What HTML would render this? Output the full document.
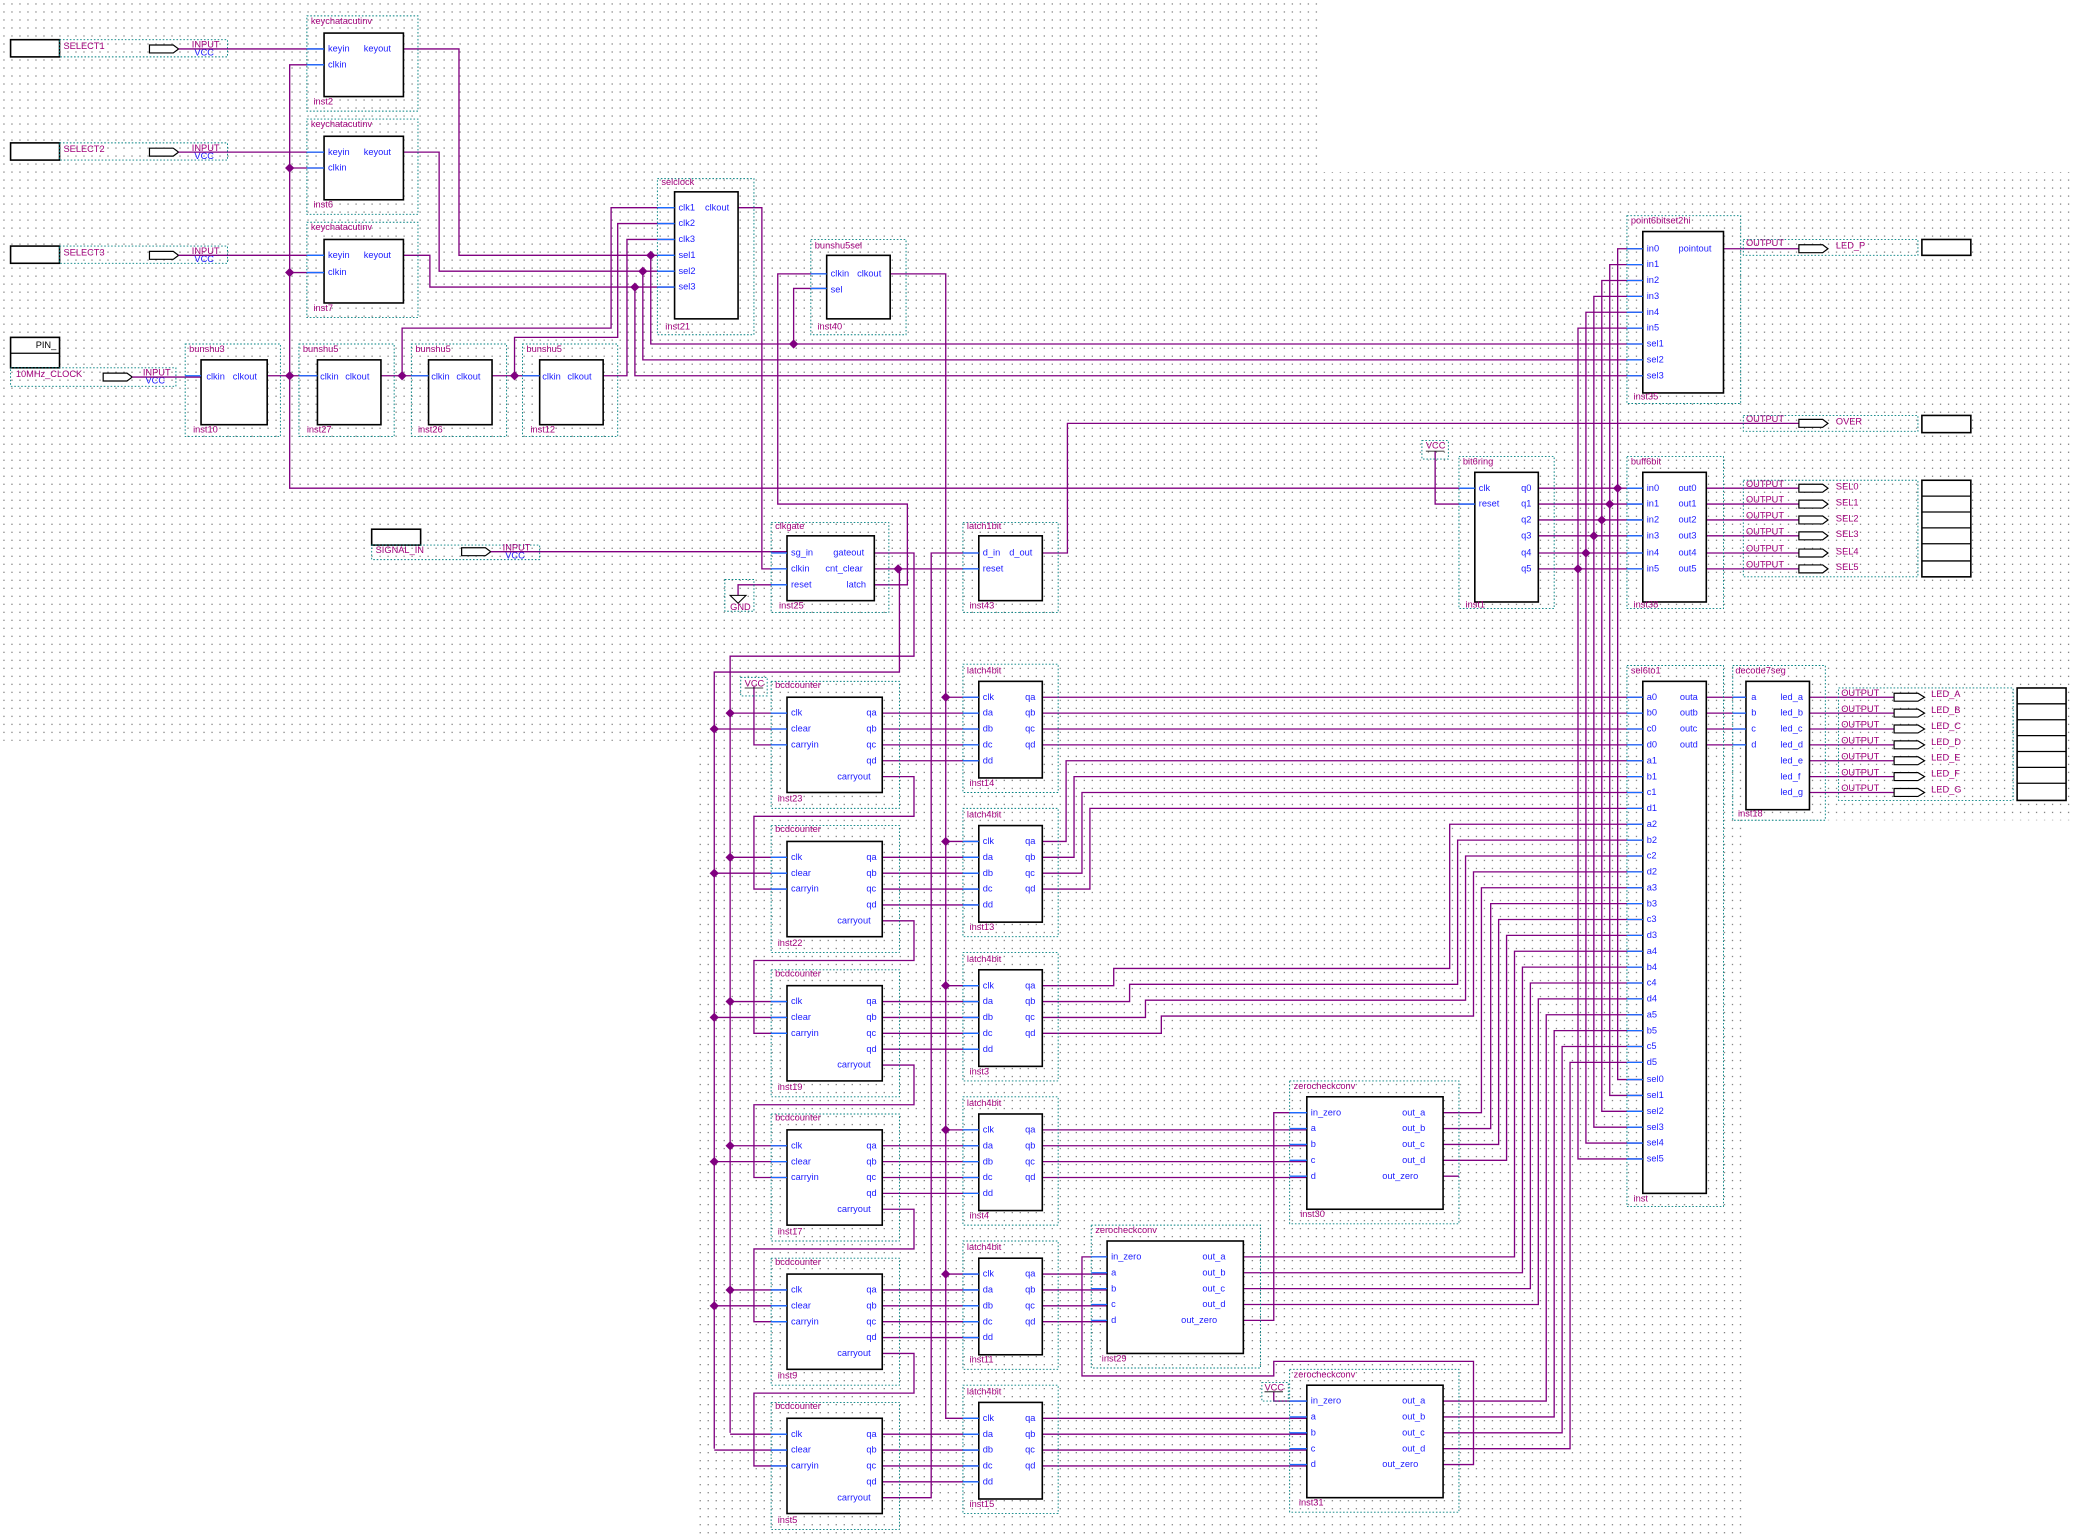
<!DOCTYPE html>
<html><head><meta charset="utf-8"><style>
html,body{margin:0;padding:0;background:#fff}
svg{display:block}
text{font-family:"Liberation Sans",sans-serif;font-size:7px}
.p{fill:#1a1aff}.n{fill:#a0007a}.k{fill:#000}
.w{stroke:#800080;stroke-width:1;fill:none}
.s{stroke:#1a6cff;stroke-width:1;fill:none}
.b{fill:#fff;stroke:#000;stroke-width:1.2}
.f{fill:none;stroke:#008080;stroke-width:.7;stroke-dasharray:1.2 1.4}
.pin{fill:#fff;stroke:#000;stroke-width:.9}
</style></head><body>
<svg width="2074" height="1540" viewBox="0 0 1568 1164" preserveAspectRatio="none" xmlns="http://www.w3.org/2000/svg">
<defs>
<pattern id="g" width="6.05" height="6.05" patternUnits="userSpaceOnUse"><rect x="2.6" y="2.6" width=".8" height=".8" fill="#444"/></pattern>
<path id="d" d="M0-3.5L3.5 0 0 3.5-3.5 0z" fill="#800080"/>
</defs>
<rect width="1568" height="1164" fill="#fff"/>
<rect x="0" y="0" width="1000" height="130" fill="url(#g)"/>
<rect x="0" y="130" width="1568" height="430" fill="url(#g)"/>
<rect x="525" y="560" width="1043" height="60" fill="url(#g)"/>
<rect x="525" y="620" width="795" height="542" fill="url(#g)"/>

<!-- input pins -->
<g>
<rect class="b" x="8" y="30" width="37" height="13"/><rect class="f" x="45" y="30" width="127" height="13"/>
<text class="n" x="48" y="37">SELECT1</text><polygon class="pin" points="113,34 131,34 135,37 131,40 113,40"/>
<text class="n" x="145" y="36">INPUT</text><text class="p" x="147" y="42">VCC</text>
<rect class="b" x="8" y="108" width="37" height="13"/><rect class="f" x="45" y="108" width="127" height="13"/>
<text class="n" x="48" y="115">SELECT2</text><polygon class="pin" points="113,112 131,112 135,115 131,118 113,118"/>
<text class="n" x="145" y="114">INPUT</text><text class="p" x="147" y="120">VCC</text>
<rect class="b" x="8" y="186" width="37" height="13"/><rect class="f" x="45" y="186" width="127" height="13"/>
<text class="n" x="48" y="193">SELECT3</text><polygon class="pin" points="113,190 131,190 135,193 131,196 113,196"/>
<text class="n" x="145" y="192">INPUT</text><text class="p" x="147" y="198">VCC</text>
<rect class="b" x="8" y="255" width="37" height="23"/><line x1="8" y1="267" x2="45" y2="267" stroke="#000"/>
<text class="k" x="27" y="263">PIN_</text><rect class="f" x="8" y="278" width="125" height="14"/>
<text class="n" x="12" y="285">10MHz_CLOCK</text><polygon class="pin" points="78,282 96,282 100,285 96,288 78,288"/>
<text class="n" x="108" y="284">INPUT</text><text class="p" x="110" y="290">VCC</text>
<rect class="b" x="281" y="400" width="37" height="12"/><rect class="f" x="281" y="412" width="127" height="11"/>
<text class="n" x="284" y="418">SIGNAL_IN</text><polygon class="pin" points="349,414 367,414 371,417 367,420 349,420"/>
<text class="n" x="380" y="416">INPUT</text><text class="p" x="382" y="422">VCC</text>
</g>

<!-- wires -->
<path class="w" d="M135 37H245M305 37H347V193H518M135 115H245M305 115H332V205H518M135 193H245M305 193H325V217H518
M245 49H219V369H1115M219 127H245M219 206H245
M100 285H152M202 284H240M288 284H324M372 284H408M456 284H474V181H510
M510 157H462V248H304V284M510 169H467V255H389V284
M492 193V260H1242M486 205V272H1242M480 217V284H1242
M558 157H576V430H595M625 207H588V381H686V442H661M625 218H600V260
M673 207H715V1072H740M715 527H740M715 636H740M715 745H740M715 854H740M715 963H740
M371 417H595M661 418H691V496H552V1083M661 430H740M680 430V508H540V1095
M595 442H558V450M788 418H807V320H1360M740 418H704V1132H667
M570 519V563H595"/>
<!-- bcd wires -->
<path class="w" d="M552 539H595M540 551H595M667 539H740M667 551H740M667 563H740M667 575H740M667 587H691V617H570V672H595
M552 648H595M540 660H595M667 648H740M667 660H740M667 672H740M667 684H740M667 696H691V726H570V781H595
M552 757H595M540 769H595M667 757H740M667 769H740M667 781H740M667 793H740M667 805H691V835H570V890H595
M552 866H595M540 878H595M667 866H740M667 878H740M667 890H740M667 902H740M667 914H691V944H570V999H595
M552 975H595M540 987H595M667 975H740M667 987H740M667 999H740M667 1011H740M667 1023H691V1053H570V1108H595
M552 1084H595M540 1096H595M667 1084H740M667 1096H740M667 1108H740M667 1120H740"/>
<!-- latch outputs -->
<path class="w" d="M788 527H1242M788 539H1242M788 551H1242M788 563H1242
M788 636H806V575H1242M788 648H812V587H1242M788 660H818V599H1242M788 672H824V611H1242
M788 745H842V732H1096V623H1242M788 757H854V744H1102V635H1242M788 769H866V756H1108V647H1242M788 781H878V768H1114V659H1242
M788 854H988M788 866H988M788 878H988M788 890H988
M788 963H837M788 975H837M788 987H837M788 999H837
M788 1072H988M788 1084H988M788 1096H988M788 1108H988
M1091 841H1120V671H1242M1091 853H1127V683H1242M1091 865H1133V695H1242M1091 877H1139V707H1242
M940 950H1145V719H1242M940 962H1151V731H1242M940 974H1157V743H1242M940 986H1163V755H1242
M1091 1059H1169V767H1242M1091 1071H1175V779H1242M1091 1083H1181V791H1242M1091 1095H1187V803H1242
M988 841H963V998H940M1091 1107H1114V1029H963V1040H818V950H837M963 1052V1059H988M1091 889H1103
M1085 341V381H1115
M1163 369H1242M1163 381H1242M1163 393H1242M1163 405H1242M1163 418H1242M1163 430H1242
M1242 188H1223V816H1242M1242 200H1217V828H1242M1242 212H1211V840H1242M1242 224H1205V852H1242M1242 236H1199V864H1242M1242 248H1193V876H1242
M1290 527H1320M1290 539H1320M1290 551H1320M1290 563H1320
M1368 527H1432M1368 539H1432M1368 551H1432M1368 563H1432M1368 575H1432M1368 587H1432M1368 599H1432
M1303 188H1360M1290 369H1360M1290 381H1360M1290 393H1360M1290 405H1360M1290 418H1360M1290 430H1360"/>

<!-- junctions -->
<g>
<use href="#d" x="219" y="127"/><use href="#d" x="219" y="206"/><use href="#d" x="219" y="284"/><use href="#d" x="304" y="284"/><use href="#d" x="389" y="284"/>
<use href="#d" x="492" y="193"/><use href="#d" x="486" y="205"/><use href="#d" x="480" y="217"/><use href="#d" x="600" y="260"/><use href="#d" x="679" y="430"/>
<use href="#d" x="1223" y="369"/><use href="#d" x="1217" y="381"/><use href="#d" x="1211" y="393"/><use href="#d" x="1205" y="405"/><use href="#d" x="1199" y="418"/><use href="#d" x="1193" y="430"/>
<use href="#d" x="552" y="539"/><use href="#d" x="540" y="551"/><use href="#d" x="715" y="527"/>
<use href="#d" x="552" y="648"/><use href="#d" x="540" y="660"/><use href="#d" x="715" y="636"/>
<use href="#d" x="552" y="757"/><use href="#d" x="540" y="769"/><use href="#d" x="715" y="745"/>
<use href="#d" x="552" y="866"/><use href="#d" x="540" y="878"/><use href="#d" x="715" y="854"/>
<use href="#d" x="552" y="975"/><use href="#d" x="540" y="987"/><use href="#d" x="715" y="963"/>
</g>

<!-- GND / VCC -->
<polygon points="552,450 564,450 558,456" fill="#fff" stroke="#000" stroke-width=".8"/>
<rect class="f" x="548" y="438" width="22" height="24"/><text class="n" x="552" y="461">GND</text>
<rect class="f" x="560" y="512" width="20" height="14"/><text class="n" x="563" y="519">VCC</text><line x1="563" y1="520" x2="577" y2="520" stroke="#000" stroke-width=".6"/>
<rect class="f" x="1075" y="333" width="20" height="14"/><text class="n" x="1078" y="339">VCC</text><line x1="1078" y1="341" x2="1092" y2="341" stroke="#000" stroke-width=".6"/>
<rect class="f" x="954" y="1045" width="20" height="14"/><text class="n" x="956" y="1051">VCC</text><line x1="956" y1="1052" x2="970" y2="1052" stroke="#000" stroke-width=".6"/>

<!-- keychatacutinv -->
<g>
<rect class="f" x="232" y="12" width="84" height="72"/><rect class="b" x="245" y="25" width="60" height="48"/>
<path class="s" d="M232 37H245M232 49H245"/>
<text class="n" x="235" y="18">keychatacutinv</text><text class="p" x="248" y="39">keyin</text><text class="p" x="275" y="39">keyout</text><text class="p" x="248" y="51">clkin</text><text class="n" x="237" y="79">inst2</text>
<rect class="f" x="232" y="90" width="84" height="72"/><rect class="b" x="245" y="103" width="60" height="48"/>
<path class="s" d="M232 115H245M232 127H245"/>
<text class="n" x="235" y="96">keychatacutinv</text><text class="p" x="248" y="117">keyin</text><text class="p" x="275" y="117">keyout</text><text class="p" x="248" y="129">clkin</text><text class="n" x="237" y="157">inst6</text>
<rect class="f" x="232" y="168" width="84" height="72"/><rect class="b" x="245" y="181" width="60" height="48"/>
<path class="s" d="M232 193H245M232 206H245"/>
<text class="n" x="235" y="174">keychatacutinv</text><text class="p" x="248" y="195">keyin</text><text class="p" x="275" y="195">keyout</text><text class="p" x="248" y="208">clkin</text><text class="n" x="237" y="235">inst7</text>
</g>

<!-- selclock -->
<rect class="f" x="497" y="135" width="73" height="118"/><rect class="b" x="510" y="145" width="48" height="96"/>
<path class="s" d="M497 157H510M497 169H510M497 181H510M497 193H510M497 205H510M497 217H510"/>
<text class="n" x="500" y="140">selclock</text><text class="n" x="503" y="249">inst21</text>
<text class="p" x="513" y="159">clk1</text><text class="p" x="533" y="159">clkout</text><text class="p" x="513" y="171">clk2</text><text class="p" x="513" y="183">clk3</text><text class="p" x="513" y="195">sel1</text><text class="p" x="513" y="207">sel2</text><text class="p" x="513" y="219">sel3</text>

<!-- bunshu -->
<g>
<rect class="f" x="140" y="260" width="72" height="70"/><rect class="b" x="152" y="272" width="50" height="49"/><path class="s" d="M140 284H152"/>
<text class="n" x="143" y="266">bunshu3</text><text class="p" x="156" y="287">clkin</text><text class="p" x="176" y="287">clkout</text><text class="n" x="146" y="327">inst10</text>
<rect class="f" x="226" y="260" width="72" height="70"/><rect class="b" x="240" y="272" width="48" height="49"/><path class="s" d="M226 284H240"/>
<text class="n" x="229" y="266">bunshu5</text><text class="p" x="242" y="287">clkin</text><text class="p" x="261" y="287">clkout</text><text class="n" x="232" y="327">inst27</text>
<rect class="f" x="311" y="260" width="72" height="70"/><rect class="b" x="324" y="272" width="48" height="49"/><path class="s" d="M311 284H324"/>
<text class="n" x="314" y="266">bunshu5</text><text class="p" x="326" y="287">clkin</text><text class="p" x="345" y="287">clkout</text><text class="n" x="316" y="327">inst26</text>
<rect class="f" x="395" y="260" width="72" height="70"/><rect class="b" x="408" y="272" width="48" height="49"/><path class="s" d="M395 284H408"/>
<text class="n" x="398" y="266">bunshu5</text><text class="p" x="410" y="287">clkin</text><text class="p" x="429" y="287">clkout</text><text class="n" x="401" y="327">inst12</text>
</g>

<!-- bunshu5sel -->
<rect class="f" x="613" y="181" width="72" height="72"/><rect class="b" x="625" y="193" width="48" height="48"/><path class="s" d="M613 207H625M613 218H625"/>
<text class="n" x="616" y="188">bunshu5sel</text><text class="p" x="628" y="209">clkin</text><text class="p" x="648" y="209">clkout</text><text class="p" x="628" y="221">sel</text><text class="n" x="618" y="249">inst40</text>

<!-- clkgate -->
<rect class="f" x="583" y="395" width="89" height="68"/><rect class="b" x="595" y="405" width="66" height="49"/><path class="s" d="M583 418H595M583 430H595M583 442H595"/>
<text class="n" x="586" y="400">clkgate</text><text class="p" x="598" y="420">sg_in</text><text class="p" x="598" y="432">clkin</text><text class="p" x="598" y="444">reset</text>
<text class="p" x="630" y="420">gateout</text><text class="p" x="624" y="432">cnt_clear</text><text class="p" x="640" y="444">latch</text><text class="n" x="589" y="460">inst25</text>

<!-- latch1bit -->
<rect class="f" x="728" y="395" width="72" height="68"/><rect class="b" x="740" y="405" width="48" height="49"/><path class="s" d="M728 418H740M728 430H740"/>
<text class="n" x="731" y="400">latch1bit</text><text class="p" x="743" y="420">d_in</text><text class="p" x="763" y="420">d_out</text><text class="p" x="743" y="432">reset</text><text class="n" x="733" y="460">inst43</text>

<!-- bcdcounters -->
<g>
<rect class="f" x="583" y="515" width="97" height="96"/><rect class="b" x="595" y="527" width="72" height="72"/><path class="s" d="M583 539H595M583 551H595M583 563H595"/>
<text class="n" x="586" y="520">bcdcounter</text><text class="p" x="598" y="541">clk</text><text class="p" x="598" y="553">clear</text><text class="p" x="598" y="565">carryin</text><text class="p" x="655" y="541">qa</text><text class="p" x="655" y="553">qb</text><text class="p" x="655" y="565">qc</text><text class="p" x="655" y="577">qd</text><text class="p" x="633" y="589">carryout</text><text class="n" x="588" y="606">inst23</text>
<rect class="f" x="583" y="624" width="97" height="96"/><rect class="b" x="595" y="636" width="72" height="72"/><path class="s" d="M583 648H595M583 660H595M583 672H595"/>
<text class="n" x="586" y="629">bcdcounter</text><text class="p" x="598" y="650">clk</text><text class="p" x="598" y="662">clear</text><text class="p" x="598" y="674">carryin</text><text class="p" x="655" y="650">qa</text><text class="p" x="655" y="662">qb</text><text class="p" x="655" y="674">qc</text><text class="p" x="655" y="686">qd</text><text class="p" x="633" y="698">carryout</text><text class="n" x="588" y="715">inst22</text>
<rect class="f" x="583" y="733" width="97" height="96"/><rect class="b" x="595" y="745" width="72" height="72"/><path class="s" d="M583 757H595M583 769H595M583 781H595"/>
<text class="n" x="586" y="738">bcdcounter</text><text class="p" x="598" y="759">clk</text><text class="p" x="598" y="771">clear</text><text class="p" x="598" y="783">carryin</text><text class="p" x="655" y="759">qa</text><text class="p" x="655" y="771">qb</text><text class="p" x="655" y="783">qc</text><text class="p" x="655" y="795">qd</text><text class="p" x="633" y="807">carryout</text><text class="n" x="588" y="824">inst19</text>
<rect class="f" x="583" y="842" width="97" height="96"/><rect class="b" x="595" y="854" width="72" height="72"/><path class="s" d="M583 866H595M583 878H595M583 890H595"/>
<text class="n" x="586" y="847">bcdcounter</text><text class="p" x="598" y="868">clk</text><text class="p" x="598" y="880">clear</text><text class="p" x="598" y="892">carryin</text><text class="p" x="655" y="868">qa</text><text class="p" x="655" y="880">qb</text><text class="p" x="655" y="892">qc</text><text class="p" x="655" y="904">qd</text><text class="p" x="633" y="916">carryout</text><text class="n" x="588" y="933">inst17</text>
<rect class="f" x="583" y="951" width="97" height="96"/><rect class="b" x="595" y="963" width="72" height="72"/><path class="s" d="M583 975H595M583 987H595M583 999H595"/>
<text class="n" x="586" y="956">bcdcounter</text><text class="p" x="598" y="977">clk</text><text class="p" x="598" y="989">clear</text><text class="p" x="598" y="1001">carryin</text><text class="p" x="655" y="977">qa</text><text class="p" x="655" y="989">qb</text><text class="p" x="655" y="1001">qc</text><text class="p" x="655" y="1013">qd</text><text class="p" x="633" y="1025">carryout</text><text class="n" x="588" y="1042">inst9</text>
<rect class="f" x="583" y="1060" width="97" height="96"/><rect class="b" x="595" y="1072" width="72" height="72"/><path class="s" d="M583 1084H595M583 1096H595M583 1108H595"/>
<text class="n" x="586" y="1065">bcdcounter</text><text class="p" x="598" y="1086">clk</text><text class="p" x="598" y="1098">clear</text><text class="p" x="598" y="1110">carryin</text><text class="p" x="655" y="1086">qa</text><text class="p" x="655" y="1098">qb</text><text class="p" x="655" y="1110">qc</text><text class="p" x="655" y="1122">qd</text><text class="p" x="633" y="1134">carryout</text><text class="n" x="588" y="1151">inst5</text>
</g>

<!-- latch4bit -->
<g>
<rect class="f" x="728" y="502" width="72" height="97"/><rect class="b" x="740" y="515" width="48" height="73"/><path class="s" d="M728 527H740M728 539H740M728 551H740M728 563H740M728 575H740"/>
<text class="n" x="731" y="509">latch4bit</text><text class="p" x="743" y="529">clk</text><text class="p" x="743" y="541">da</text><text class="p" x="743" y="553">db</text><text class="p" x="743" y="565">dc</text><text class="p" x="743" y="577">dd</text><text class="p" x="775" y="529">qa</text><text class="p" x="775" y="541">qb</text><text class="p" x="775" y="553">qc</text><text class="p" x="775" y="565">qd</text><text class="n" x="733" y="594">inst14</text>
<rect class="f" x="728" y="611" width="72" height="97"/><rect class="b" x="740" y="624" width="48" height="73"/><path class="s" d="M728 636H740M728 648H740M728 660H740M728 672H740M728 684H740"/>
<text class="n" x="731" y="618">latch4bit</text><text class="p" x="743" y="638">clk</text><text class="p" x="743" y="650">da</text><text class="p" x="743" y="662">db</text><text class="p" x="743" y="674">dc</text><text class="p" x="743" y="686">dd</text><text class="p" x="775" y="638">qa</text><text class="p" x="775" y="650">qb</text><text class="p" x="775" y="662">qc</text><text class="p" x="775" y="674">qd</text><text class="n" x="733" y="703">inst13</text>
<rect class="f" x="728" y="720" width="72" height="97"/><rect class="b" x="740" y="733" width="48" height="73"/><path class="s" d="M728 745H740M728 757H740M728 769H740M728 781H740M728 793H740"/>
<text class="n" x="731" y="727">latch4bit</text><text class="p" x="743" y="747">clk</text><text class="p" x="743" y="759">da</text><text class="p" x="743" y="771">db</text><text class="p" x="743" y="783">dc</text><text class="p" x="743" y="795">dd</text><text class="p" x="775" y="747">qa</text><text class="p" x="775" y="759">qb</text><text class="p" x="775" y="771">qc</text><text class="p" x="775" y="783">qd</text><text class="n" x="733" y="812">inst3</text>
<rect class="f" x="728" y="829" width="72" height="97"/><rect class="b" x="740" y="842" width="48" height="73"/><path class="s" d="M728 854H740M728 866H740M728 878H740M728 890H740M728 902H740"/>
<text class="n" x="731" y="836">latch4bit</text><text class="p" x="743" y="856">clk</text><text class="p" x="743" y="868">da</text><text class="p" x="743" y="880">db</text><text class="p" x="743" y="892">dc</text><text class="p" x="743" y="904">dd</text><text class="p" x="775" y="856">qa</text><text class="p" x="775" y="868">qb</text><text class="p" x="775" y="880">qc</text><text class="p" x="775" y="892">qd</text><text class="n" x="733" y="921">inst4</text>
<rect class="f" x="728" y="938" width="72" height="97"/><rect class="b" x="740" y="951" width="48" height="73"/><path class="s" d="M728 963H740M728 975H740M728 987H740M728 999H740M728 1011H740"/>
<text class="n" x="731" y="945">latch4bit</text><text class="p" x="743" y="965">clk</text><text class="p" x="743" y="977">da</text><text class="p" x="743" y="989">db</text><text class="p" x="743" y="1001">dc</text><text class="p" x="743" y="1013">dd</text><text class="p" x="775" y="965">qa</text><text class="p" x="775" y="977">qb</text><text class="p" x="775" y="989">qc</text><text class="p" x="775" y="1001">qd</text><text class="n" x="733" y="1030">inst11</text>
<rect class="f" x="728" y="1047" width="72" height="97"/><rect class="b" x="740" y="1060" width="48" height="73"/><path class="s" d="M728 1072H740M728 1084H740M728 1096H740M728 1108H740M728 1120H740"/>
<text class="n" x="731" y="1054">latch4bit</text><text class="p" x="743" y="1074">clk</text><text class="p" x="743" y="1086">da</text><text class="p" x="743" y="1098">db</text><text class="p" x="743" y="1110">dc</text><text class="p" x="743" y="1122">dd</text><text class="p" x="775" y="1074">qa</text><text class="p" x="775" y="1086">qb</text><text class="p" x="775" y="1098">qc</text><text class="p" x="775" y="1110">qd</text><text class="n" x="733" y="1139">inst15</text>
</g>

<!-- zerocheckconv -->
<g>
<rect class="f" x="975" y="817" width="128" height="108"/><rect class="b" x="988" y="829" width="103" height="85"/><path class="s" d="M975 841H988M975 853H988M975 865H988M975 877H988M975 889H988"/>
<text class="n" x="978" y="823">zerocheckconv</text><text class="p" x="991" y="843">in_zero</text><text class="p" x="991" y="855">a</text><text class="p" x="991" y="867">b</text><text class="p" x="991" y="879">c</text><text class="p" x="991" y="891">d</text>
<text class="p" x="1060" y="843">out_a</text><text class="p" x="1060" y="855">out_b</text><text class="p" x="1060" y="867">out_c</text><text class="p" x="1060" y="879">out_d</text><text class="p" x="1045" y="891">out_zero</text><text class="n" x="983" y="920">inst30</text>
<rect class="f" x="825" y="926" width="128" height="108"/><rect class="b" x="837" y="938" width="103" height="85"/><path class="s" d="M825 950H837M825 962H837M825 974H837M825 986H837M825 998H837"/>
<text class="n" x="828" y="932">zerocheckconv</text><text class="p" x="840" y="952">in_zero</text><text class="p" x="840" y="964">a</text><text class="p" x="840" y="976">b</text><text class="p" x="840" y="988">c</text><text class="p" x="840" y="1000">d</text>
<text class="p" x="909" y="952">out_a</text><text class="p" x="909" y="964">out_b</text><text class="p" x="909" y="976">out_c</text><text class="p" x="909" y="988">out_d</text><text class="p" x="893" y="1000">out_zero</text><text class="n" x="833" y="1029">inst29</text>
<rect class="f" x="975" y="1035" width="128" height="108"/><rect class="b" x="988" y="1047" width="103" height="85"/><path class="s" d="M975 1059H988M975 1071H988M975 1083H988M975 1095H988M975 1107H988"/>
<text class="n" x="978" y="1041">zerocheckconv</text><text class="p" x="991" y="1061">in_zero</text><text class="p" x="991" y="1073">a</text><text class="p" x="991" y="1085">b</text><text class="p" x="991" y="1097">c</text><text class="p" x="991" y="1109">d</text>
<text class="p" x="1060" y="1061">out_a</text><text class="p" x="1060" y="1073">out_b</text><text class="p" x="1060" y="1085">out_c</text><text class="p" x="1060" y="1097">out_d</text><text class="p" x="1045" y="1109">out_zero</text><text class="n" x="982" y="1138">inst31</text>
</g>

<!-- point6bitset2hi -->
<rect class="f" x="1230" y="163" width="86" height="142"/><rect class="b" x="1242" y="175" width="61" height="122"/>
<path class="s" d="M1230 188H1242M1230 200H1242M1230 212H1242M1230 224H1242M1230 236H1242M1230 248H1242M1230 260H1242M1230 272H1242M1230 284H1242"/>
<text class="n" x="1233" y="169">point6bitset2hi</text><text class="p" x="1245" y="190">in0</text><text class="p" x="1245" y="202">in1</text><text class="p" x="1245" y="214">in2</text><text class="p" x="1245" y="226">in3</text><text class="p" x="1245" y="238">in4</text><text class="p" x="1245" y="250">in5</text><text class="p" x="1245" y="262">sel1</text><text class="p" x="1245" y="274">sel2</text><text class="p" x="1245" y="286">sel3</text><text class="p" x="1269" y="190">pointout</text><text class="n" x="1235" y="302">inst35</text>

<!-- bit6ring -->
<rect class="f" x="1103" y="345" width="72" height="115"/><rect class="b" x="1115" y="357" width="48" height="98"/><path class="s" d="M1103 369H1115M1103 381H1115"/>
<text class="n" x="1106" y="351">bit6ring</text><text class="p" x="1118" y="371">clk</text><text class="p" x="1118" y="383">reset</text>
<text class="p" x="1150" y="371">q0</text><text class="p" x="1150" y="383">q1</text><text class="p" x="1150" y="395">q2</text><text class="p" x="1150" y="407">q3</text><text class="p" x="1150" y="420">q4</text><text class="p" x="1150" y="432">q5</text><text class="n" x="1108" y="459">inst1</text>

<!-- buff6bit -->
<rect class="f" x="1230" y="345" width="73" height="115"/><rect class="b" x="1242" y="357" width="48" height="98"/>
<path class="s" d="M1230 369H1242M1230 381H1242M1230 393H1242M1230 405H1242M1230 418H1242M1230 430H1242"/>
<text class="n" x="1233" y="351">buff6bit</text>
<text class="p" x="1245" y="371">in0</text><text class="p" x="1245" y="383">in1</text><text class="p" x="1245" y="395">in2</text><text class="p" x="1245" y="407">in3</text><text class="p" x="1245" y="420">in4</text><text class="p" x="1245" y="432">in5</text>
<text class="p" x="1269" y="371">out0</text><text class="p" x="1269" y="383">out1</text><text class="p" x="1269" y="395">out2</text><text class="p" x="1269" y="407">out3</text><text class="p" x="1269" y="420">out4</text><text class="p" x="1269" y="432">out5</text><text class="n" x="1235" y="459">inst38</text>

<!-- sel6to1 -->
<rect class="f" x="1230" y="503" width="73" height="409"/><rect class="b" x="1242" y="515" width="48" height="387"/>
<path class="s" d="M1230 527H1242M1230 539H1242M1230 551H1242M1230 563H1242M1230 575H1242M1230 587H1242M1230 599H1242M1230 611H1242M1230 623H1242M1230 635H1242M1230 647H1242M1230 659H1242M1230 671H1242M1230 683H1242M1230 695H1242M1230 707H1242M1230 719H1242M1230 731H1242M1230 743H1242M1230 755H1242M1230 767H1242M1230 779H1242M1230 791H1242M1230 803H1242M1230 816H1242M1230 828H1242M1230 840H1242M1230 852H1242M1230 864H1242M1230 876H1242"/>
<text class="n" x="1233" y="509">sel6to1</text>
<text class="p" x="1245" y="529">a0</text><text class="p" x="1245" y="541">b0</text><text class="p" x="1245" y="553">c0</text><text class="p" x="1245" y="565">d0</text>
<text class="p" x="1245" y="577">a1</text><text class="p" x="1245" y="589">b1</text><text class="p" x="1245" y="601">c1</text><text class="p" x="1245" y="613">d1</text>
<text class="p" x="1245" y="625">a2</text><text class="p" x="1245" y="637">b2</text><text class="p" x="1245" y="649">c2</text><text class="p" x="1245" y="661">d2</text>
<text class="p" x="1245" y="673">a3</text><text class="p" x="1245" y="685">b3</text><text class="p" x="1245" y="697">c3</text><text class="p" x="1245" y="709">d3</text>
<text class="p" x="1245" y="721">a4</text><text class="p" x="1245" y="733">b4</text><text class="p" x="1245" y="745">c4</text><text class="p" x="1245" y="757">d4</text>
<text class="p" x="1245" y="769">a5</text><text class="p" x="1245" y="781">b5</text><text class="p" x="1245" y="793">c5</text><text class="p" x="1245" y="805">d5</text>
<text class="p" x="1245" y="818">sel0</text><text class="p" x="1245" y="830">sel1</text><text class="p" x="1245" y="842">sel2</text><text class="p" x="1245" y="854">sel3</text><text class="p" x="1245" y="866">sel4</text><text class="p" x="1245" y="878">sel5</text>
<text class="p" x="1270" y="529">outa</text><text class="p" x="1270" y="541">outb</text><text class="p" x="1270" y="553">outc</text><text class="p" x="1270" y="565">outd</text>
<text class="n" x="1235" y="908">inst</text>

<!-- decode7seg -->
<rect class="f" x="1310" y="503" width="70" height="117"/><rect class="b" x="1320" y="515" width="48" height="97"/><path class="s" d="M1310 527H1320M1310 539H1320M1310 551H1320M1310 563H1320"/>
<text class="n" x="1312" y="509">decode7seg</text>
<text class="p" x="1324" y="529">a</text><text class="p" x="1324" y="541">b</text><text class="p" x="1324" y="553">c</text><text class="p" x="1324" y="565">d</text>
<text class="p" x="1346" y="529">led_a</text><text class="p" x="1346" y="541">led_b</text><text class="p" x="1346" y="553">led_c</text><text class="p" x="1346" y="565">led_d</text><text class="p" x="1346" y="577">led_e</text><text class="p" x="1346" y="589">led_f</text><text class="p" x="1346" y="601">led_g</text>
<text class="n" x="1314" y="617">inst18</text>

<!-- output pins right -->
<g>
<rect class="f" x="1318" y="181" width="132" height="12"/><text class="n" x="1320" y="186">OUTPUT</text><polygon class="pin" points="1360,185 1378,185 1382,188 1378,191 1360,191"/><text class="n" x="1388" y="188">LED_P</text><rect class="b" x="1453" y="181" width="37" height="12"/>
<rect class="f" x="1318" y="314" width="132" height="12"/><text class="n" x="1320" y="319">OUTPUT</text><polygon class="pin" points="1360,317 1378,317 1382,320 1378,323 1360,323"/><text class="n" x="1388" y="321">OVER</text><rect class="b" x="1453" y="314" width="37" height="13"/>
<rect class="f" x="1318" y="363" width="132" height="73"/>
<text class="n" x="1320" y="368">OUTPUT</text><polygon class="pin" points="1360,366 1378,366 1382,369 1378,372 1360,372"/><text class="n" x="1388" y="370">SEL0</text>
<text class="n" x="1320" y="380">OUTPUT</text><polygon class="pin" points="1360,378 1378,378 1382,381 1378,384 1360,384"/><text class="n" x="1388" y="382">SEL1</text>
<text class="n" x="1320" y="392">OUTPUT</text><polygon class="pin" points="1360,390 1378,390 1382,393 1378,396 1360,396"/><text class="n" x="1388" y="394">SEL2</text>
<text class="n" x="1320" y="404">OUTPUT</text><polygon class="pin" points="1360,402 1378,402 1382,405 1378,408 1360,408"/><text class="n" x="1388" y="406">SEL3</text>
<text class="n" x="1320" y="417">OUTPUT</text><polygon class="pin" points="1360,415 1378,415 1382,418 1378,421 1360,421"/><text class="n" x="1388" y="419">SEL4</text>
<text class="n" x="1320" y="429">OUTPUT</text><polygon class="pin" points="1360,427 1378,427 1382,430 1378,433 1360,433"/><text class="n" x="1388" y="431">SEL5</text>
<rect class="b" x="1453" y="363" width="37" height="73"/><path d="M1453 375H1490M1453 387H1490M1453 399H1490M1453 411H1490M1453 424H1490" stroke="#000" stroke-width="1"/>
<rect class="f" x="1390" y="520" width="132" height="85"/>
<text class="n" x="1392" y="526">OUTPUT</text><polygon class="pin" points="1432,524 1450,524 1455,527 1450,530 1432,530"/><text class="n" x="1460" y="527">LED_A</text>
<text class="n" x="1392" y="538">OUTPUT</text><polygon class="pin" points="1432,536 1450,536 1455,539 1450,542 1432,542"/><text class="n" x="1460" y="539">LED_B</text>
<text class="n" x="1392" y="550">OUTPUT</text><polygon class="pin" points="1432,548 1450,548 1455,551 1450,554 1432,554"/><text class="n" x="1460" y="551">LED_C</text>
<text class="n" x="1392" y="562">OUTPUT</text><polygon class="pin" points="1432,560 1450,560 1455,563 1450,566 1432,566"/><text class="n" x="1460" y="563">LED_D</text>
<text class="n" x="1392" y="574">OUTPUT</text><polygon class="pin" points="1432,572 1450,572 1455,575 1450,578 1432,578"/><text class="n" x="1460" y="575">LED_E</text>
<text class="n" x="1392" y="586">OUTPUT</text><polygon class="pin" points="1432,584 1450,584 1455,587 1450,590 1432,590"/><text class="n" x="1460" y="587">LED_F</text>
<text class="n" x="1392" y="598">OUTPUT</text><polygon class="pin" points="1432,596 1450,596 1455,599 1450,602 1432,602"/><text class="n" x="1460" y="599">LED_G</text>
<rect class="b" x="1525" y="520" width="37" height="85"/><path d="M1525 532H1562M1525 544H1562M1525 556H1562M1525 568H1562M1525 580H1562M1525 592H1562" stroke="#000" stroke-width="1"/>
</g>
</svg>
</body></html>
